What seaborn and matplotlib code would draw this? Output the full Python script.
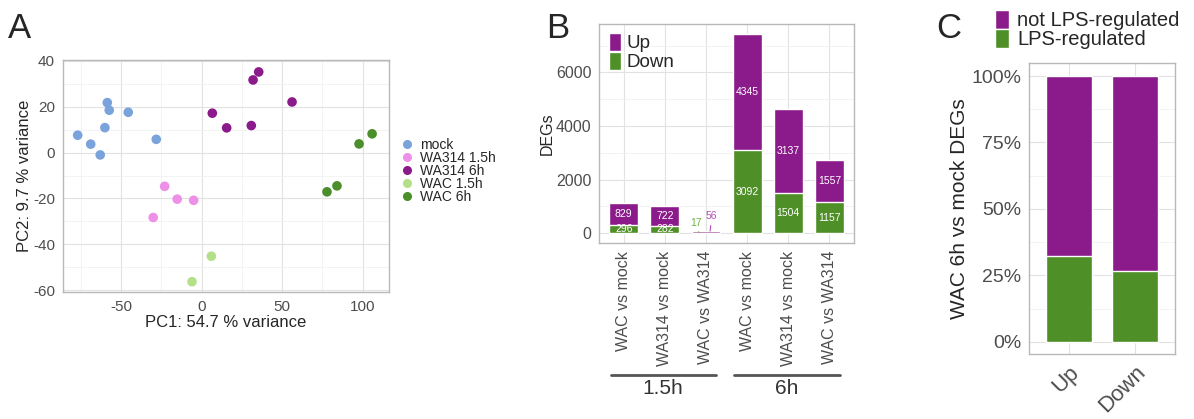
import numpy as np
import pandas as pd
import matplotlib
matplotlib.use("Agg")
import matplotlib.pyplot as plt
import matplotlib.ticker as mticker
import matplotlib.transforms as mtransforms
from matplotlib.patches import Patch
from matplotlib.lines import Line2D
import seaborn as sns

# ---- panel A: PCA scores ----
mock_pc1 = [-58.6, -57.4, -45.6, -60.1, -77.0, -68.9, -63.0, -28.2]
mock_pc2 = [21.8, 18.5, 17.6, 10.9, 7.6, 3.7, -1.0, 5.8]
wa314_15_pc1 = [-23.0, -15.2, -5.0, -30.1]
wa314_15_pc2 = [-14.7, -20.3, -20.8, -28.3]
wa314_6_pc1 = [35.4, 31.9, 56.1, 6.6, 15.5, 30.8]
wa314_6_pc2 = [35.2, 31.7, 22.1, 17.2, 10.8, 11.8]
wac_15_pc1 = [6.0, -6.0]
wac_15_pc2 = [-45.2, -56.3]
wac_6_pc1 = [105.8, 97.7, 84.0, 77.8]
wac_6_pc2 = [8.2, 3.8, -14.5, -17.1]
groups = ["mock", "WA314 1.5h", "WA314 6h", "WAC 1.5h", "WAC 6h"]
group_colors = ["#7ba3db", "#ee8fe8", "#8b1a8b", "#b4e08a", "#4a8f2a"]

# ---- panel B: DEG counts ----
comparisons = ["WAC vs mock", "WA314 vs mock", "WAC vs WA314"] * 2
timepoints = ["1.5h"] * 3 + ["6h"] * 3
degs_down = [296, 282, 17, 3092, 1504, 1157]
degs_up = [829, 722, 56, 4345, 3137, 1557]

# ---- panel C: share of LPS-regulated genes ----
directions = ["Up", "Down"]
lps_frac = [0.323, 0.267]

purple = "#8b1a8b"
green = "#4e8f27"

sns.set_style("white")
plt.rcParams["font.family"] = ["Liberation Sans", "DejaVu Sans"]
plt.rcParams["axes.unicode_minus"] = False


def style_axes(ax, xminor=False):
    for s in ax.spines.values():
        s.set_color("#b8b8b8")
        s.set_linewidth(1.0)
    ax.yaxis.set_minor_locator(mticker.AutoMinorLocator(2))
    if xminor:
        ax.xaxis.set_minor_locator(mticker.AutoMinorLocator(2))
    ax.grid(True, which="major", color="#e2e2e2", lw=0.8)
    ax.grid(True, which="minor", color="#f1f1f1", lw=0.6)
    ax.set_axisbelow(True)
    ax.tick_params(which="major", length=3.5, width=0.8, color="#333333",
                   labelcolor="#4d4d4d", pad=2)
    ax.tick_params(which="minor", length=0)


fig = plt.figure(figsize=(11.94, 4.19), dpi=100)

# ---------- A ----------
pcs = [(mock_pc1, mock_pc2), (wa314_15_pc1, wa314_15_pc2), (wa314_6_pc1, wa314_6_pc2),
       (wac_15_pc1, wac_15_pc2), (wac_6_pc1, wac_6_pc2)]
pca = pd.concat([pd.DataFrame({"PC1": x, "PC2": y, "group": g})
                 for (x, y), g in zip(pcs, groups)], ignore_index=True)

axA = fig.add_axes([0.0525, 0.3031, 0.2733, 0.5537])
sns.scatterplot(data=pca, x="PC1", y="PC2", hue="group", hue_order=groups,
                palette=dict(zip(groups, group_colors)), s=48, edgecolor="none",
                legend=False, ax=axA)
axA.set_xlim(-86.3, 116.3)
axA.set_ylim(-60.8, 40.4)
axA.set_xticks([-50, 0, 50, 100])
axA.set_yticks([-60, -40, -20, 0, 20, 40])
style_axes(axA, xminor=True)
axA.tick_params(labelsize=11)
axA.set_xlabel("PC1: 54.7 % variance", fontsize=12, labelpad=1)
axA.set_ylabel("PC2: 9.7 % variance", fontsize=12, labelpad=1)
handles = [Line2D([], [], marker="o", ls="", color=c, markersize=5.5) for c in group_colors]
axA.legend(handles, groups, loc="center left", bbox_to_anchor=(401 / 1194, 1 - 171 / 419),
           bbox_transform=fig.transFigure, frameon=False, fontsize=10, borderpad=0,
           borderaxespad=0, handlelength=0.85, handletextpad=0.55, labelspacing=-0.08)

# ---------- B ----------
keys = [f"{c} {t}" for c, t in zip(comparisons, timepoints)]
degs = pd.DataFrame({"key": keys, "down": degs_down, "up": degs_up})
degs["total"] = degs["down"] + degs["up"]

axB = fig.add_axes([0.5017, 0.42, 0.2136, 0.5227])
sns.barplot(data=degs, x="key", y="total", color=purple, width=0.7, saturation=1, ax=axB)
sns.barplot(data=degs, x="key", y="down", color=green, width=0.7, saturation=1, ax=axB)
axB.set_xlim(-0.6, 5.6)
axB.set_ylim(-372, 7809)
axB.set_yticks([0, 2000, 4000, 6000])
style_axes(axB)
axB.tick_params(axis="y", labelsize=11.5)
axB.set_xticks(range(len(comparisons)))
axB.set_xticklabels(comparisons, rotation=90, fontsize=11.5, va="top")
axB.set_xlabel("")
axB.set_ylabel("DEGs", fontsize=11.5, labelpad=1)

for i, row in degs.iterrows():
    if row["total"] > 300:
        axB.text(i, row["down"] / 2, str(row["down"]), color="white", fontsize=7.5,
                 ha="center", va="center")
        axB.text(i, row["down"] + row["up"] / 2, str(row["up"]), color="white", fontsize=7.5,
                 ha="center", va="center")
    else:
        # repelled labels for the tiny bar
        axB.annotate(str(row["down"]), xy=(i - 0.17, row["down"]), xytext=(-2.2, 6.6),
                     textcoords="offset points", color="#6fb043", fontsize=7.5,
                     ha="center", va="center",
                     arrowprops=dict(arrowstyle="-", color="#6fb043", lw=0.8,
                                     shrinkA=1, shrinkB=0))
        axB.annotate(str(row["up"]), xy=(i + 0.1, row["total"]), xytext=(1.2, 10.9),
                     textcoords="offset points", color="#b44fb4", fontsize=7.5,
                     ha="center", va="center",
                     arrowprops=dict(arrowstyle="-", color="#b44fb4", lw=0.8,
                                     shrinkA=1, shrinkB=0))

trans = mtransforms.blended_transform_factory(axB.transData, axB.transAxes)
for tp in ["1.5h", "6h"]:
    idx = [i for i, t in enumerate(timepoints) if t == tp]
    axB.plot([min(idx) - 0.32, max(idx) + 0.25], [-0.603, -0.603], transform=trans,
             clip_on=False, color="#555555", lw=2)
    axB.text(np.mean(idx) - 0.05, -0.662, tp, transform=trans, fontsize=15,
             color="#333333", ha="center", va="center")

axB.legend([Patch(facecolor=purple), Patch(facecolor=green)], ["Up", "Down"],
           loc="upper left", bbox_to_anchor=(609 / 1194, 1 - 33 / 419),
           bbox_transform=fig.transFigure, frameon=False, fontsize=13.5, borderpad=0,
           borderaxespad=0, handlelength=0.64, handleheight=1.1, handletextpad=0.27,
           labelspacing=-0.03)

# ---------- C ----------
share = pd.DataFrame({"direction": directions, "lps": lps_frac, "all": [1.0] * len(directions)})
axC = fig.add_axes([0.8618, 0.1551, 0.1223, 0.6952])
sns.barplot(data=share, x="direction", y="all", color=purple, width=0.7, saturation=1, ax=axC)
sns.barplot(data=share, x="direction", y="lps", color=green, width=0.7, saturation=1, ax=axC)
axC.set_xlim(-0.6, 1.6)
axC.set_ylim(-0.046, 1.05)
axC.set_yticks([0, 0.25, 0.5, 0.75, 1.0])
axC.yaxis.set_major_formatter(mticker.PercentFormatter(1.0, decimals=0))
style_axes(axC)
axC.tick_params(axis="y", labelsize=14)
axC.set_xticks(range(len(directions)))
axC.set_xticklabels(directions, rotation=45, ha="right", rotation_mode="anchor", fontsize=16)
axC.set_xlabel("")
axC.set_ylabel("WAC 6h vs mock DEGs", fontsize=15, labelpad=2)
axC.legend([Patch(facecolor=purple), Patch(facecolor=green)],
           ["not LPS-regulated", "LPS-regulated"],
           loc="upper left", bbox_to_anchor=(995 / 1194, 1 - 10 / 419),
           bbox_transform=fig.transFigure, frameon=False, fontsize=14.5, borderpad=0,
           borderaxespad=0, handlelength=0.7, handleheight=1.05, handletextpad=0.4,
           labelspacing=-0.05)

# panel letters
for letter, x in [("A", 8), ("B", 546), ("C", 936)]:
    fig.text(x / 1194, 1 - 38 / 419, letter, fontsize=25, ha="left", va="baseline")

fig.savefig("out.png", dpi=100)
